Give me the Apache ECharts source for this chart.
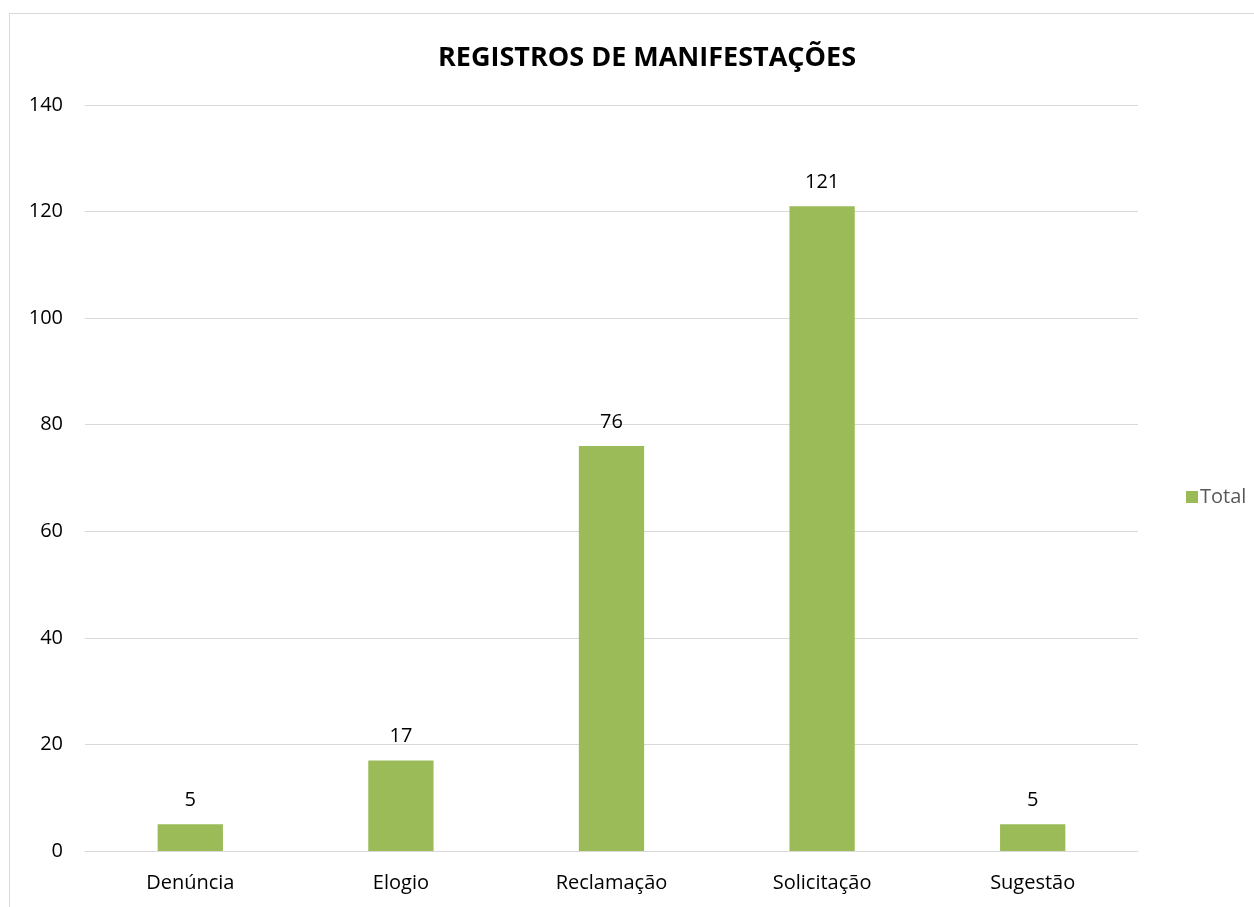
<!DOCTYPE html>
<html>
<head>
<meta charset="utf-8">
<script src="https://cdn.jsdelivr.net/npm/echarts@6/dist/echarts.min.js"></script>
<style>
  html, body { margin: 0; padding: 0; background: #fff; overflow: hidden; }
  #frame { position: absolute; left: 9px; top: 13px; width: 1260px; height: 920px;
           border-top: 1px solid #d9d9d9; border-left: 1px solid #d9d9d9; }
  #chart { position: absolute; left: 0; top: 0; width: 1254px; height: 907px; }
</style>
</head>
<body>
<div id="frame"></div>
<div id="chart"></div>
<script>
const categories = ['Denúncia', 'Elogio', 'Reclamação', 'Solicitação', 'Sugestão']
const totals = [5, 17, 76, 121, 5]
const seriesName = 'Total'
const chartTitle = 'REGISTROS DE MANIFESTAÇÕES'

const font = '"Open Sans", "Noto Sans", sans-serif'
const chart = echarts.init(document.getElementById('chart'), null, { renderer: 'canvas' })

chart.setOption({
  animation: false,
  title: {
    text: chartTitle,
    left: 433,
    top: 40,
    textStyle: { fontFamily: font, fontSize: 27, fontWeight: 'bold', color: '#000' }
  },
  legend: {
    data: [seriesName],
    left: 1181,
    top: 482,
    orient: 'vertical',
    icon: 'rect',
    itemWidth: 12,
    itemHeight: 12,
    itemGap: 6,
    textStyle: { fontFamily: font, fontSize: 20, color: '#595959', padding: [0, 0, 0, -3] }
  },
  grid: { left: 85, right: 116, top: 105, bottom: 56, containLabel: false },
  xAxis: {
    type: 'category',
    data: categories,
    axisLine: { lineStyle: { color: '#d9d9d9', width: 1 } },
    axisTick: { show: false },
    axisLabel: { fontFamily: font, fontSize: 20, color: '#000', margin: 22 }
  },
  yAxis: {
    type: 'value',
    min: 0,
    max: 140,
    interval: 20,
    axisLine: { show: false },
    axisTick: { show: false },
    axisLabel: { fontFamily: font, fontSize: 20, color: '#000', margin: 22 },
    splitLine: { lineStyle: { color: '#d9d9d9', width: 1 } }
  },
  series: [{
    name: seriesName,
    type: 'bar',
    data: totals,
    barWidth: '31%',
    itemStyle: { color: '#9bbb59' },
    label: {
      show: true,
      position: 'top',
      distance: 14,
      fontFamily: font,
      fontSize: 20,
      color: '#000'
    }
  }]
})
</script>
</body>
</html>
